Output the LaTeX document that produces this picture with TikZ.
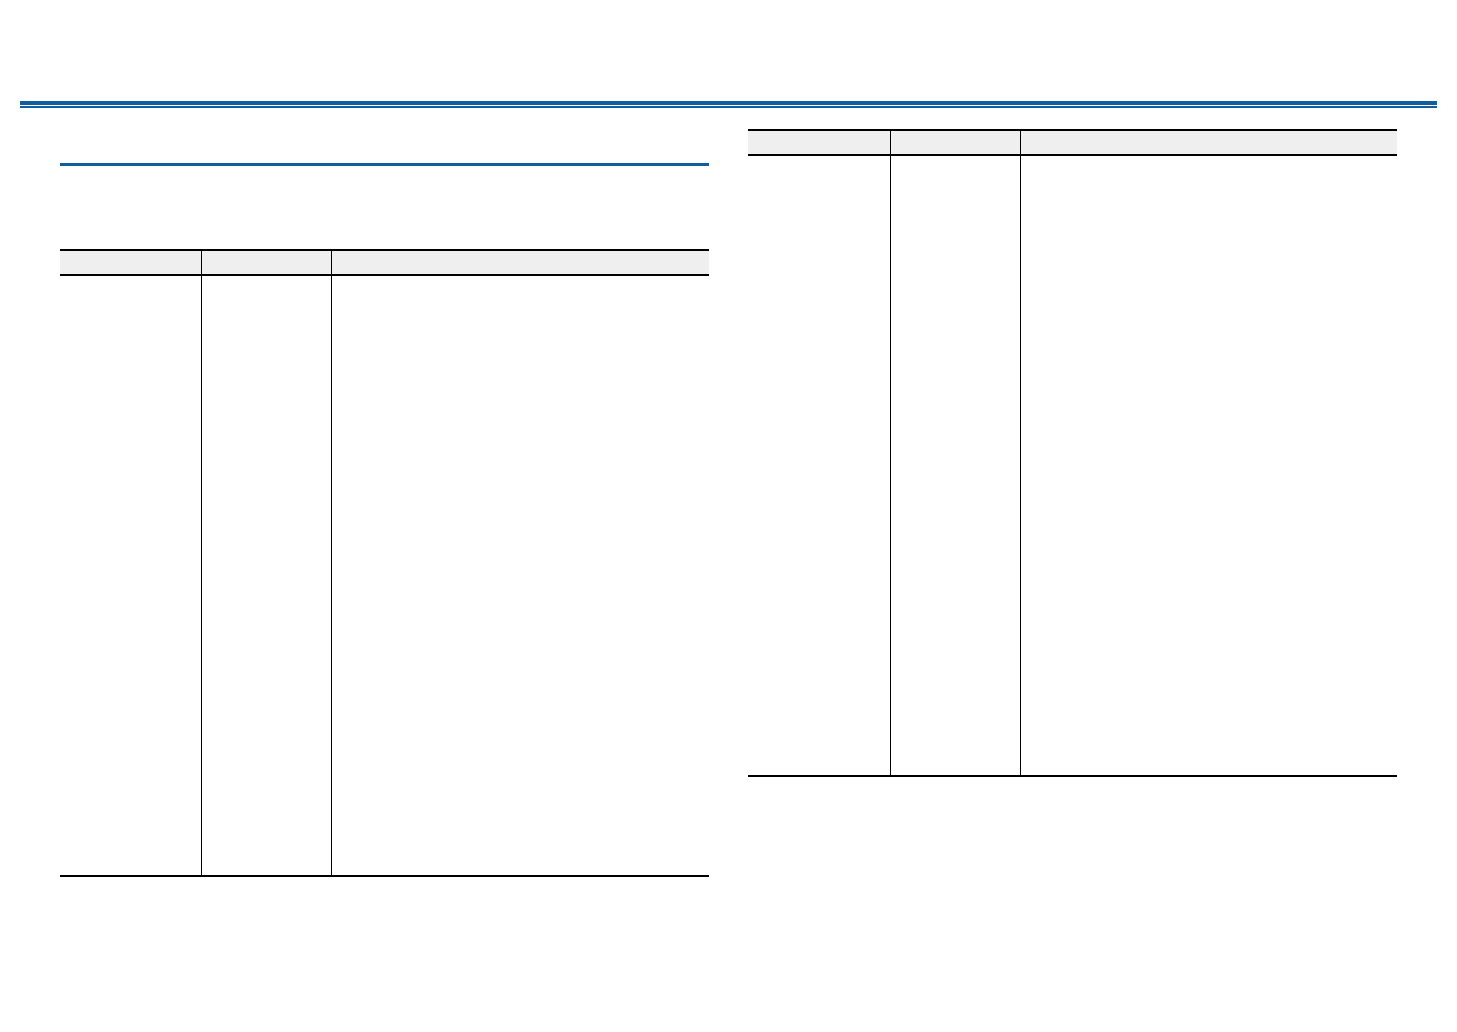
\documentclass[tikz,border=0pt]{standalone}
\usepackage{tikz}
\definecolor{white}{RGB}{255,255,255}
\definecolor{black}{RGB}{0,0,0}
\definecolor{page_blue}{RGB}{14,94,160}
\definecolor{head_gray}{RGB}{239,239,239}

\begin{document}
\begin{tikzpicture}[x=0.75pt,y=-0.75pt]
	\useasboundingbox[fill=white] (0,0) rectangle (1457,1032);
	% page header rule
	\fill[page_blue] (20,101) rectangle (1437,105);
	\fill[page_blue] (20,106) rectangle (1437,108);
	% section rule
	\fill[page_blue] (60,163) rectangle (709,166);
	
	% left table
	\fill[head_gray] (60,250) rectangle (709,275);
	\foreach \y in {250,275,876}
		\draw[black,line width=1.5pt] (60,\y) -- (709,\y);
	\foreach \x in {201,331}
		\draw[black,line width=0.75pt] (\x,250) -- (\x,876);
	
	% right table
	\fill[head_gray] (748,130) rectangle (1397,155);
	\foreach \y in {130,155,776}
		\draw[black,line width=1.5pt] (748,\y) -- (1397,\y);
	\foreach \x in {890,1020}
		\draw[black,line width=0.75pt] (\x,130) -- (\x,776);
\end{tikzpicture}
\end{document}
